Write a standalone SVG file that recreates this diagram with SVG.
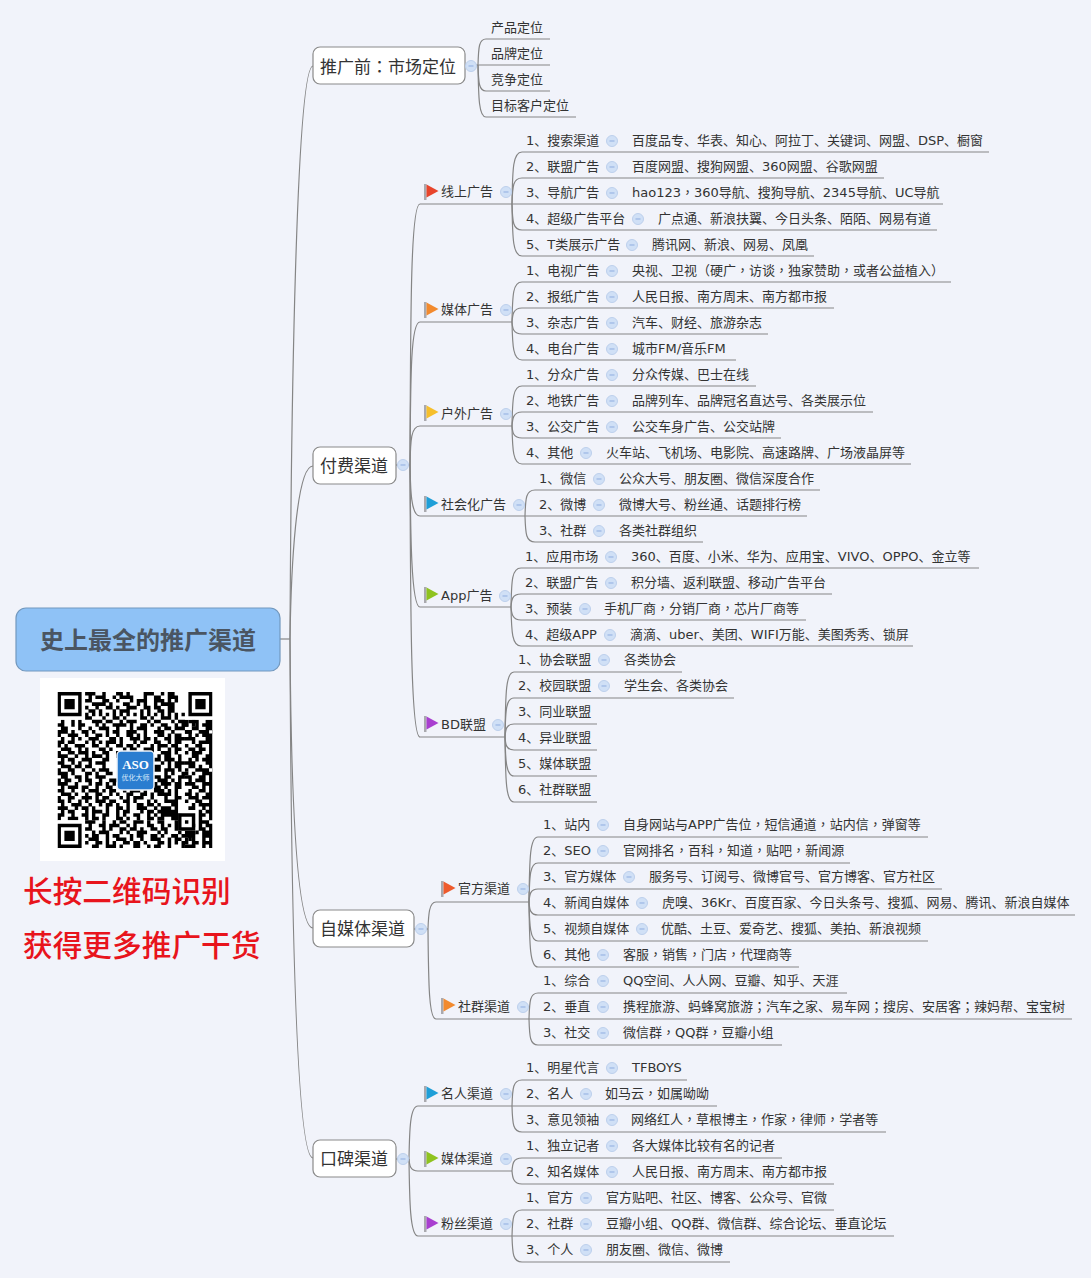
<svg xmlns="http://www.w3.org/2000/svg" width="1091" height="1278" viewBox="0 0 1091 1278">
<style>
text{font-family:"DejaVu Sans","Noto Sans CJK SC",sans-serif;fill:#333}
.t{font-size:13px;transform:translateY(-.7px)}
.h{font-size:17px;transform:translateY(1px)}
.p{font-family:"Noto Sans CJK TC",sans-serif}
.b{fill:#fff;stroke:#8a8a8a;stroke-width:1.2}
.red{font-size:29.7px;font-weight:500;fill:#e8141c;font-family:"Noto Sans CJK SC",sans-serif}
#conn path{fill:none;stroke:#858585;stroke-width:1.2}
.qr{fill:none;stroke:#000;stroke-width:1.03}
</style>
<defs>
<g id="m"><circle r="5.5" fill="#d0e0f6" stroke="#bdd0ec" stroke-width="1"/><path d="M-2.5 0H2.5" stroke="#8fade0" stroke-width="1"/></g>
<path id="pole" d="M0 0h2.5v16h-2.5z" fill="#a9a9ae"/>
<path id="tri" d="M2.5 .5L14.5 7L2.5 13.5z"/>
</defs>
<rect width="1091" height="1278" fill="#f1f3fa"/>
<g id="conn">
<path d="M280 639H290"/>
<path d="M290 639C291 420 296 66 313 66"/>
<path d="M290 639C291 570 296 466 313 466"/>
<path d="M290 639C291 790 296 928 313 928"/>
<path d="M290 639C291 900 296 1158 313 1158"/>
<path d="M465 65H478"/>
<path d="M478 65C478.5 47 479 39 486 39H550"/>
<path d="M478 65H550"/>
<path d="M478 65C478.5 83 479 91 486 91H550"/>
<path d="M478 65C478.5 99 479 117 486 117H576"/>
<path d="M396 465H410"/>
<path d="M410 465C410.5 300 411 204 420 204H512"/>
<path d="M410 465C410.5 370 411 322 420 322H512"/>
<path d="M410 465C410.5 440 411 426 420 426H512"/>
<path d="M410 465C410.5 490 411 516 420 516H525"/>
<path d="M410 465C410.5 530 411 607 420 607H511"/>
<path d="M410 465C410.5 620 411 737 420 737H505"/>
<path d="M512 204C512.5 168 513 152 522 152H989"/>
<path d="M512 204C512.5 186 513 178 522 178H884"/>
<path d="M512 204H943"/>
<path d="M512 204C512.5 222 513 230 522 230H937"/>
<path d="M512 204C512.5 240 513 256 522 256H814"/>
<path d="M512 322C512.5 294 513 282 522 282H951"/>
<path d="M512 322C512.5 315 513 308 522 308H834"/>
<path d="M512 322C512.5 328 513 334 522 334H768"/>
<path d="M512 322C512.5 346 513 360 522 360H736"/>
<path d="M512 426C512.5 398 513 386 522 386H756"/>
<path d="M512 426C512.5 419 513 412 522 412H873"/>
<path d="M512 426C512.5 432 513 438 522 438H781"/>
<path d="M512 426C512.5 450 513 464 522 464H911"/>
<path d="M525 516C525.5 498 526 490 535 490H820"/>
<path d="M525 516H807"/>
<path d="M525 516C525.5 534 526 542 535 542H703"/>
<path d="M511 607C511.5 580 512 568 521 568H979"/>
<path d="M511 607C511.5 600 512 594 521 594H832"/>
<path d="M511 607C511.5 613 512 620 521 620H806"/>
<path d="M511 607C511.5 632 512 646 521 646H913"/>
<path d="M505 737C505.5 692 506 672 514 672H682"/>
<path d="M505 737C505.5 710 506 698 514 698H734"/>
<path d="M505 737C505.5 730 506 724 514 724H597"/>
<path d="M505 737C505.5 744 506 750 514 750H597"/>
<path d="M505 737C505.5 760 506 776 514 776H597"/>
<path d="M505 737C505.5 782 506 802 514 802H597"/>
<path d="M414 929H428"/>
<path d="M428 929C428.5 915 429 902 436 902H529"/>
<path d="M428 929C428.5 985 429 1019 436 1019H529"/>
<path d="M529 902C529.5 857 530 837 538 837H928"/>
<path d="M529 902C529.5 875 530 863 538 863H850"/>
<path d="M529 902C529.5 895 530 889 538 889H942"/>
<path d="M529 902C529.5 909 530 915 538 915H1075"/>
<path d="M529 902C529.5 925 530 941 538 941H928"/>
<path d="M529 902C529.5 947 530 967 538 967H799"/>
<path d="M529 1019C529.5 1001 530 993 538 993H847"/>
<path d="M529 1019H1072"/>
<path d="M529 1019C529.5 1037 530 1045 538 1045H782"/>
<path d="M396 1159H409"/>
<path d="M409 1159C409.5 1130 410 1106 418 1106H512"/>
<path d="M409 1159C409.5 1165 410 1171 418 1171H512"/>
<path d="M409 1159C409.5 1200 410 1236 418 1236H512"/>
<path d="M512 1106C512.5 1088 513 1080 522 1080H687"/>
<path d="M512 1106H717"/>
<path d="M512 1106C512.5 1124 513 1132 522 1132H886"/>
<path d="M512 1171C512.5 1164 513 1158 522 1158H782"/>
<path d="M512 1171C512.5 1177 513 1184 522 1184H834"/>
<path d="M512 1236C512.5 1218 513 1210 522 1210H834"/>
<path d="M512 1236H894"/>
<path d="M512 1236C512.5 1254 513 1262 522 1262H730"/>
</g>
<g id="root"><rect x="16" y="608" width="264" height="63" rx="10" fill="#8fc2f6" stroke="#7298be" stroke-width="1.2"/><text x="148" y="649" text-anchor="middle" font-size="24" font-weight="700" style="fill:#4a5562;font-family:'Noto Sans CJK SC',sans-serif">史上最全的推广渠道</text></g>
<g id="qrcode">
<rect x="40" y="678" width="185" height="183" fill="#fff"/>
<svg x="57.5" y="692" width="155" height="156" viewBox="0 0 45 45" preserveAspectRatio="none">
<path class="qr" d="M8 .5h3m2 0h1m3 0h2m1 0h1m4 0h3m2 0h1m1 0h2M9 1.5h1m1 0h3m2 0h1m1 0h4m3 0h1m2 0h2m2 0h3M8 2.5h2m3 0h2m2 0h1m3 0h1m1 0h3m2 0h3m1 0h1m1 0h1M10 3.5h4m1 0h1m3 0h2m2 0h1m1 0h1m2 0h1m1 0h4M8 4.5h1m2 0h1m2 0h2m1 0h1m2 0h3m2 0h2m1 0h2m2 0h2M9 5.5h2m1 0h1m3 0h1m1 0h3m3 0h1m1 0h1m2 0h2m1 0h2M8 6.5h1m1 0h1m1 0h1m1 0h1m1 0h1m1 0h1m1 0h1m1 0h1m1 0h1m1 0h1m1 0h1m1 0h1m1 0h1m1 0h1m1 0h1M8 7.5h2m3 0h1m2 0h2m1 0h1m4 0h2m1 0h1m2 0h3m1 0h1"/>
<path class="qr" d="M1 8.5h1m2 0h1m1 0h1m3 0h3m1 0h2m2 0h1m1 0h3m3 0h1m1 0h2m3 0h1m1 0h3m1 0h1M0 9.5h2m2 0h1m1 0h2m3 0h1m1 0h1m2 0h4m1 0h1m2 0h2m1 0h1m2 0h2m2 0h1m1 0h2m1 0h1M1 10.5h2m3 0h1m2 0h1m2 0h3m2 0h1m3 0h1m1 0h3m3 0h1m1 0h2m1 0h3M0 11.5h3m1 0h1m2 0h2m1 0h1m3 0h1m1 0h2m2 0h3m2 0h1m2 0h3m2 0h1m3 0h2M0 12.5h1m2 0h3m2 0h1m2 0h2m1 0h1m2 0h1m2 0h2m1 0h1m1 0h1m3 0h2m1 0h1m1 0h2M1 13.5h1m2 0h1m1 0h1m2 0h3m3 0h2m1 0h1m2 0h3m1 0h2m1 0h1m2 0h2m1 0h3M0 14.5h2m1 0h2m3 0h1m1 0h1m1 0h1m1 0h3m1 0h1m3 0h1m1 0h2m2 0h2m2 0h1m1 0h2M0 15.5h1m1 0h1m2 0h3m2 0h2m2 0h1m2 0h2m1 0h2m1 0h1m3 0h1m1 0h3m1 0h2M1 16.5h3m2 0h1m1 0h1m3 0h2m1 0h1m3 0h1m1 0h2m2 0h3m1 0h1m2 0h1m1 0h2M0 17.5h1m2 0h2m1 0h3m1 0h1m2 0h2m2 0h3m1 0h1m1 0h1m2 0h2m2 0h3m1 0h1M0 18.5h3m2 0h1m2 0h1m1 0h3m1 0h1m2 0h1m3 0h2m1 0h3m2 0h1m1 0h2m2 0h1M1 19.5h1m1 0h2m2 0h3m3 0h2m8 0h1m2 0h1m1 0h2m1 0h3m1 0h1M0 20.5h2m2 0h1m1 0h1m2 0h1m1 0h3m8 0h2m3 0h1m2 0h1m1 0h1m1 0h3M1 21.5h3m1 0h2m1 0h2m3 0h1m10 0h3m1 0h2m2 0h1m1 0h2M0 22.5h1m2 0h2m2 0h1m2 0h1m1 0h3m8 0h1m1 0h1m2 0h2m1 0h3m1 0h1M0 23.5h3m1 0h1m3 0h2m1 0h1m2 0h2m8 0h2m1 0h1m3 0h1m1 0h1m2 0h2M1 24.5h2m2 0h2m1 0h1m2 0h3m11 0h1m1 0h3m1 0h2m2 0h2M0 25.5h1m1 0h2m2 0h1m1 0h2m2 0h1m2 0h3m1 0h2m2 0h2m1 0h1m2 0h3m1 0h1m1 0h1M0 26.5h3m2 0h1m3 0h1m1 0h2m1 0h1m1 0h1m3 0h1m1 0h1m2 0h2m1 0h1m1 0h3m1 0h2M1 27.5h1m1 0h3m1 0h2m2 0h1m2 0h2m2 0h2m1 0h1m3 0h1m2 0h2m1 0h1m2 0h2M0 28.5h2m2 0h1m2 0h1m1 0h3m1 0h1m1 0h2m2 0h1m1 0h3m1 0h1m2 0h3m1 0h1m1 0h1M1 29.5h3m1 0h1m2 0h1m2 0h2m2 0h1m1 0h1m2 0h2m2 0h2m1 0h1m1 0h4m1 0h1M0 30.5h1m2 0h2m2 0h3m1 0h1m1 0h2m3 0h1m1 0h1m1 0h3m2 0h1m3 0h1m2 0h2M0 31.5h2m1 0h1m2 0h1m1 0h1m2 0h3m1 0h2m2 0h2m1 0h1m3 0h1m1 0h1m2 0h4M1 32.5h1m2 0h3m2 0h1m2 0h1m1 0h2m1 0h1m2 0h1m2 0h2m1 0h2m1 0h1m3 0h2M0 33.5h3m2 0h1m1 0h2m1 0h1m3 0h1m2 0h2m1 0h1m2 0h3m2 0h1m1 0h3m1 0h1M1 34.5h1m1 0h2m3 0h1m1 0h3m1 0h1m2 0h1m1 0h2m3 0h1m1 0h2m1 0h6M0 35.5h2m2 0h1m2 0h2m1 0h1m2 0h2m2 0h1m1 0h1m2 0h2m2 0h1m1 0h1m1 0h6M0 36.5h1m2 0h3m2 0h1m1 0h2m1 0h1m3 0h2m1 0h1m2 0h1m2 0h2m1 0h2m2 0h4"/>
<path class="qr" d="M8 37.5h3m2 0h1m2 0h1m1 0h2m2 0h3m1 0h1m2 0h2m3 0h2m1 0h2M9 38.5h1m2 0h2m1 0h3m2 0h1m1 0h1m3 0h2m2 0h1m1 0h1m1 0h1m2 0h3M8 39.5h2m3 0h1m1 0h1m2 0h2m1 0h2m1 0h1m2 0h2m1 0h2m2 0h1m1 0h3M10 40.5h1m1 0h3m3 0h1m1 0h1m2 0h3m3 0h1m1 0h1m3 0h1m2 0h2M8 41.5h1m1 0h2m2 0h1m1 0h2m3 0h1m1 0h2m2 0h2m1 0h1m2 0h2m1 0h3M9 42.5h3m2 0h1m2 0h3m1 0h1m2 0h1m2 0h3m2 0h1m1 0h2m2 0h1M8 43.5h1m2 0h2m1 0h1m1 0h1m2 0h2m1 0h2m1 0h1m3 0h2m1 0h1m1 0h1m1 0h2M10 44.5h2m2 0h3m1 0h1m3 0h2m2 0h1m1 0h2m2 0h1m3 0h1m2 0h1"/>
<path class="qr" d="M38 8.5h3m2 0h2M37 9.5h1m2 0h1m1 0h3M39 10.5h2m2 0h2M37 11.5h2m2 0h3m1 0h1M38 12.5h1m1 0h1m1 0h3M37 13.5h3m3 0h2M39 14.5h1m1 0h4M37 15.5h1m2 0h2m2 0h1M38 16.5h2m1 0h2m1 0h1M37 17.5h1m1 0h3m2 0h1M39 18.5h2m2 0h2M38 19.5h1m1 0h1m1 0h3M37 20.5h3m3 0h2M38 21.5h2m1 0h1m2 0h1M37 22.5h1m2 0h4m1 0h1M39 23.5h1m2 0h3M37 24.5h2m2 0h2m1 0h1M38 25.5h1m1 0h3m1 0h1M37 26.5h3m2 0h3M39 27.5h2m1 0h1m1 0h1M38 28.5h1m2 0h2m1 0h1M37 29.5h2m1 0h1m2 0h2M38 30.5h3m1 0h3M37 31.5h1m2 0h2m2 0h1M39 32.5h1m1 0h4M38 33.5h2m2 0h1m1 0h1M41 34.5h1m1 0h2M41 35.5h2m1 0h1M41 36.5h1m2 0h1M41 37.5h3M41 38.5h1m1 0h2M41 39.5h2m1 0h1M37 40.5h2m1 0h1m1 0h3M38 41.5h2m2 0h3M37 42.5h1m1 0h1m2 0h1m1 0h1M39 43.5h2m1 0h3M37 44.5h3m2 0h1m1 0h1"/>
<path d="M0 0h8v8h-8zM37 0h8v8h-8zM0 37h8v8h-8zM35 35h5v5h-5z" fill="#fff"/>
<path fill-rule="evenodd" d="M0 0h7v7h-7zM1 1v5h5v-5zM2 2h3v3h-3zM38 0h7v7h-7zM39 1v5h5v-5zM40 2h3v3h-3zM0 38h7v7h-7zM1 39v5h5v-5zM2 40h3v3h-3zM35 35h5v5h-5zM36 36v3h3v-3zM37 37h1v1h-1z" fill="#000"/>
</svg>
<rect x="117" y="751" width="37" height="39" rx="4" fill="#2a7dd0" stroke="#eef3fa" stroke-width="1.5"/>
<text x="135.5" y="769" text-anchor="middle" font-size="13" font-weight="700" style="font-family:'Liberation Serif',serif;fill:#fff">ASO</text>
<text x="135.5" y="780" text-anchor="middle" font-size="7" style="fill:#d6e8fa">优化大师</text>
</g>
<g id="promo"><text class="red" x="23" y="902">长按二维码识别</text><text class="red" x="23" y="956">获得更多推广干货</text></g>

<g id="t1"><rect class="b" x="313" y="47" width="152" height="37" rx="7"/><text class="h" x="320" y="72">推广前<tspan class="p">：</tspan>市场定位</text><use href="#m" x="471" y="66"/></g>
<g id="t1-1"><text class="t" x="491" y="33">产品定位</text></g>
<g id="t1-2"><text class="t" x="491" y="59">品牌定位</text></g>
<g id="t1-3"><text class="t" x="491" y="85">竞争定位</text></g>
<g id="t1-4"><text class="t" x="491" y="111">目标客户定位</text></g>

<g id="t2"><rect class="b" x="313" y="447" width="83" height="37" rx="7"/><text class="h" x="320" y="471">付费渠道</text><use href="#m" x="403" y="465"/></g>
<g id="a1"><use href="#pole" x="424" y="184"/><use href="#tri" x="424" y="184" fill="#e8452c"/><text class="t" x="441" y="197">线上广告</text><use href="#m" x="506" y="192"/></g>
<g id="a1-1"><text class="t" x="526" y="146">1、搜索渠道</text><use href="#m" x="612" y="141"/><text class="t" x="632" y="146">百度品专、华表、知心、阿拉丁、关键词、网盟、DSP、橱窗</text></g>
<g id="a1-2"><text class="t" x="526" y="172">2、联盟广告</text><use href="#m" x="612" y="167"/><text class="t" x="632" y="172">百度网盟、搜狗网盟、360网盟、谷歌网盟</text></g>
<g id="a1-3"><text class="t" x="526" y="198">3、导航广告</text><use href="#m" x="612" y="193"/><text class="t" x="632" y="198">hao123<tspan class="p">，</tspan>360导航、搜狗导航、2345导航、UC导航</text></g>
<g id="a1-4"><text class="t" x="526" y="224">4、超级广告平台</text><use href="#m" x="638" y="219"/><text class="t" x="658" y="224">广点通、新浪扶翼、今日头条、陌陌、网易有道</text></g>
<g id="a1-5"><text class="t" x="526" y="250">5、T类展示广告</text><use href="#m" x="632" y="245"/><text class="t" x="652" y="250">腾讯网、新浪、网易、凤凰</text></g>

<g id="a2"><use href="#pole" x="424" y="302"/><use href="#tri" x="424" y="302" fill="#f28a2e"/><text class="t" x="441" y="315">媒体广告</text><use href="#m" x="506" y="310"/></g>
<g id="a2-1"><text class="t" x="526" y="276">1、电视广告</text><use href="#m" x="612" y="271"/><text class="t" x="632" y="276">央视、卫视（硬广<tspan class="p">，</tspan>访谈<tspan class="p">，</tspan>独家赞助<tspan class="p">，</tspan>或者公益植入）</text></g>
<g id="a2-2"><text class="t" x="526" y="302">2、报纸广告</text><use href="#m" x="612" y="297"/><text class="t" x="632" y="302">人民日报、南方周末、南方都市报</text></g>
<g id="a2-3"><text class="t" x="526" y="328">3、杂志广告</text><use href="#m" x="612" y="323"/><text class="t" x="632" y="328">汽车、财经、旅游杂志</text></g>
<g id="a2-4"><text class="t" x="526" y="354">4、电台广告</text><use href="#m" x="612" y="349"/><text class="t" x="632" y="354">城市FM/音乐FM</text></g>

<g id="a3"><use href="#pole" x="424" y="405"/><use href="#tri" x="424" y="405" fill="#f6bf2c"/><text class="t" x="441" y="419">户外广告</text><use href="#m" x="506" y="414"/></g>
<g id="a3-1"><text class="t" x="526" y="380">1、分众广告</text><use href="#m" x="612" y="375"/><text class="t" x="632" y="380">分众传媒、巴士在线</text></g>
<g id="a3-2"><text class="t" x="526" y="406">2、地铁广告</text><use href="#m" x="612" y="401"/><text class="t" x="632" y="406">品牌列车、品牌冠名直达号、各类展示位</text></g>
<g id="a3-3"><text class="t" x="526" y="432">3、公交广告</text><use href="#m" x="612" y="427"/><text class="t" x="632" y="432">公交车身广告、公交站牌</text></g>
<g id="a3-4"><text class="t" x="526" y="458">4、其他</text><use href="#m" x="586" y="453"/><text class="t" x="606" y="458">火车站、飞机场、电影院、高速路牌、广场液晶屏等</text></g>

<g id="a4"><use href="#pole" x="424" y="496"/><use href="#tri" x="424" y="496" fill="#1f9fd8"/><text class="t" x="441" y="510">社会化广告</text><use href="#m" x="519" y="505"/></g>
<g id="a4-1"><text class="t" x="539" y="484">1、微信</text><use href="#m" x="599" y="479"/><text class="t" x="619" y="484">公众大号、朋友圈、微信深度合作</text></g>
<g id="a4-2"><text class="t" x="539" y="510">2、微博</text><use href="#m" x="599" y="505"/><text class="t" x="619" y="510">微博大号、粉丝通、话题排行榜</text></g>
<g id="a4-3"><text class="t" x="539" y="536">3、社群</text><use href="#m" x="599" y="531"/><text class="t" x="619" y="536">各类社群组织</text></g>

<g id="a5"><use href="#pole" x="424" y="587"/><use href="#tri" x="424" y="587" fill="#8fc31f"/><text class="t" x="441" y="601">App广告</text><use href="#m" x="505" y="596"/></g>
<g id="a5-1"><text class="t" x="525" y="562">1、应用市场</text><use href="#m" x="611" y="557"/><text class="t" x="631" y="562">360、百度、小米、华为、应用宝、VIVO、OPPO、金立等</text></g>
<g id="a5-2"><text class="t" x="525" y="588">2、联盟广告</text><use href="#m" x="611" y="583"/><text class="t" x="631" y="588">积分墙、返利联盟、移动广告平台</text></g>
<g id="a5-3"><text class="t" x="525" y="614">3、预装</text><use href="#m" x="585" y="609"/><text class="t" x="604" y="614">手机厂商<tspan class="p">，</tspan>分销厂商<tspan class="p">，</tspan>芯片厂商等</text></g>
<g id="a5-4"><text class="t" x="525" y="640">4、超级APP</text><use href="#m" x="610" y="635"/><text class="t" x="630" y="640">滴滴、uber、美团、WIFI万能、美图秀秀、锁屏</text></g>

<g id="a6"><use href="#pole" x="424" y="716"/><use href="#tri" x="424" y="716" fill="#a93fd0"/><text class="t" x="441" y="730">BD联盟</text><use href="#m" x="498" y="725"/></g>
<g id="a6-1"><text class="t" x="518" y="665">1、协会联盟</text><use href="#m" x="604" y="660"/><text class="t" x="624" y="665">各类协会</text></g>
<g id="a6-2"><text class="t" x="518" y="691">2、校园联盟</text><use href="#m" x="604" y="686"/><text class="t" x="624" y="691">学生会、各类协会</text></g>
<g id="a6-3"><text class="t" x="518" y="717">3、同业联盟</text></g>
<g id="a6-4"><text class="t" x="518" y="743">4、异业联盟</text></g>
<g id="a6-5"><text class="t" x="518" y="769">5、媒体联盟</text></g>
<g id="a6-6"><text class="t" x="518" y="795">6、社群联盟</text></g>

<g id="t3"><rect class="b" x="313" y="910" width="101" height="37" rx="7"/><text class="h" x="320" y="934">自媒体渠道</text><use href="#m" x="421" y="929"/></g>
<g id="b1"><use href="#pole" x="441" y="881"/><use href="#tri" x="441" y="881" fill="#ee5a2c"/><text class="t" x="458" y="894">官方渠道</text><use href="#m" x="523" y="889"/></g>
<g id="b1-1"><text class="t" x="543" y="830">1、站内</text><use href="#m" x="603" y="825"/><text class="t" x="623" y="830">自身网站与APP广告位<tspan class="p">，</tspan>短信通道<tspan class="p">，</tspan>站内信<tspan class="p">，</tspan>弹窗等</text></g>
<g id="b1-2"><text class="t" x="543" y="856">2、SEO</text><use href="#m" x="603" y="851"/><text class="t" x="623" y="856">官网排名<tspan class="p">，</tspan>百科<tspan class="p">，</tspan>知道<tspan class="p">，</tspan>贴吧<tspan class="p">，</tspan>新闻源</text></g>
<g id="b1-3"><text class="t" x="543" y="882">3、官方媒体</text><use href="#m" x="629" y="877"/><text class="t" x="649" y="882">服务号、订阅号、微博官号、官方博客、官方社区</text></g>
<g id="b1-4"><text class="t" x="543" y="908">4、新闻自媒体</text><use href="#m" x="642" y="903"/><text class="t" x="662" y="908">虎嗅、36Kr、百度百家、今日头条号、搜狐、网易、腾讯、新浪自媒体</text></g>
<g id="b1-5"><text class="t" x="543" y="934">5、视频自媒体</text><use href="#m" x="642" y="929"/><text class="t" x="661" y="934">优酷、土豆、爱奇艺、搜狐、美拍、新浪视频</text></g>
<g id="b1-6"><text class="t" x="543" y="960">6、其他</text><use href="#m" x="603" y="955"/><text class="t" x="623" y="960">客服<tspan class="p">，</tspan>销售<tspan class="p">，</tspan>门店<tspan class="p">，</tspan>代理商等</text></g>

<g id="b2"><use href="#pole" x="441" y="998"/><use href="#tri" x="441" y="998" fill="#f28a2e"/><text class="t" x="458" y="1012">社群渠道</text><use href="#m" x="523" y="1007"/></g>
<g id="b2-1"><text class="t" x="543" y="986">1、综合</text><use href="#m" x="603" y="981"/><text class="t" x="623" y="986">QQ空间、人人网、豆瓣、知乎、天涯</text></g>
<g id="b2-2"><text class="t" x="543" y="1012">2、垂直</text><use href="#m" x="603" y="1007"/><text class="t" x="623" y="1012">携程旅游、蚂蜂窝旅游<tspan class="p">；</tspan>汽车之家、易车网<tspan class="p">；</tspan>搜房、安居客<tspan class="p">；</tspan>辣妈帮、宝宝树</text></g>
<g id="b2-3"><text class="t" x="543" y="1038">3、社交</text><use href="#m" x="603" y="1033"/><text class="t" x="623" y="1038">微信群<tspan class="p">，</tspan>QQ群<tspan class="p">，</tspan>豆瓣小组</text></g>

<g id="t4"><rect class="b" x="313" y="1140" width="83" height="37" rx="7"/><text class="h" x="320" y="1164">口碑渠道</text><use href="#m" x="403" y="1159"/></g>
<g id="c1"><use href="#pole" x="424" y="1086"/><use href="#tri" x="424" y="1086" fill="#1f9fd8"/><text class="t" x="441" y="1099">名人渠道</text><use href="#m" x="506" y="1094"/></g>
<g id="c1-1"><text class="t" x="526" y="1073">1、明星代言</text><use href="#m" x="612" y="1068"/><text class="t" x="632" y="1073">TFBOYS</text></g>
<g id="c1-2"><text class="t" x="526" y="1099">2、名人</text><use href="#m" x="586" y="1094"/><text class="t" x="605" y="1099">如马云<tspan class="p">，</tspan>如属呦呦</text></g>
<g id="c1-3"><text class="t" x="526" y="1125">3、意见领袖</text><use href="#m" x="612" y="1120"/><text class="t" x="631" y="1125">网络红人<tspan class="p">，</tspan>草根博主<tspan class="p">，</tspan>作家<tspan class="p">，</tspan>律师<tspan class="p">，</tspan>学者等</text></g>

<g id="c2"><use href="#pole" x="424" y="1151"/><use href="#tri" x="424" y="1151" fill="#8fc31f"/><text class="t" x="441" y="1164">媒体渠道</text><use href="#m" x="506" y="1159"/></g>
<g id="c2-1"><text class="t" x="526" y="1151">1、独立记者</text><use href="#m" x="612" y="1146"/><text class="t" x="632" y="1151">各大媒体比较有名的记者</text></g>
<g id="c2-2"><text class="t" x="526" y="1177">2、知名媒体</text><use href="#m" x="612" y="1172"/><text class="t" x="632" y="1177">人民日报、南方周末、南方都市报</text></g>

<g id="c3"><use href="#pole" x="424" y="1216"/><use href="#tri" x="424" y="1216" fill="#a93fd0"/><text class="t" x="441" y="1229">粉丝渠道</text><use href="#m" x="506" y="1224"/></g>
<g id="c3-1"><text class="t" x="526" y="1203">1、官方</text><use href="#m" x="586" y="1198"/><text class="t" x="606" y="1203">官方贴吧、社区、博客、公众号、官微</text></g>
<g id="c3-2"><text class="t" x="526" y="1229">2、社群</text><use href="#m" x="586" y="1224"/><text class="t" x="606" y="1229">豆瓣小组、QQ群、微信群、综合论坛、垂直论坛</text></g>
<g id="c3-3"><text class="t" x="526" y="1255">3、个人</text><use href="#m" x="586" y="1250"/><text class="t" x="606" y="1255">朋友圈、微信、微博</text></g>
</svg>
